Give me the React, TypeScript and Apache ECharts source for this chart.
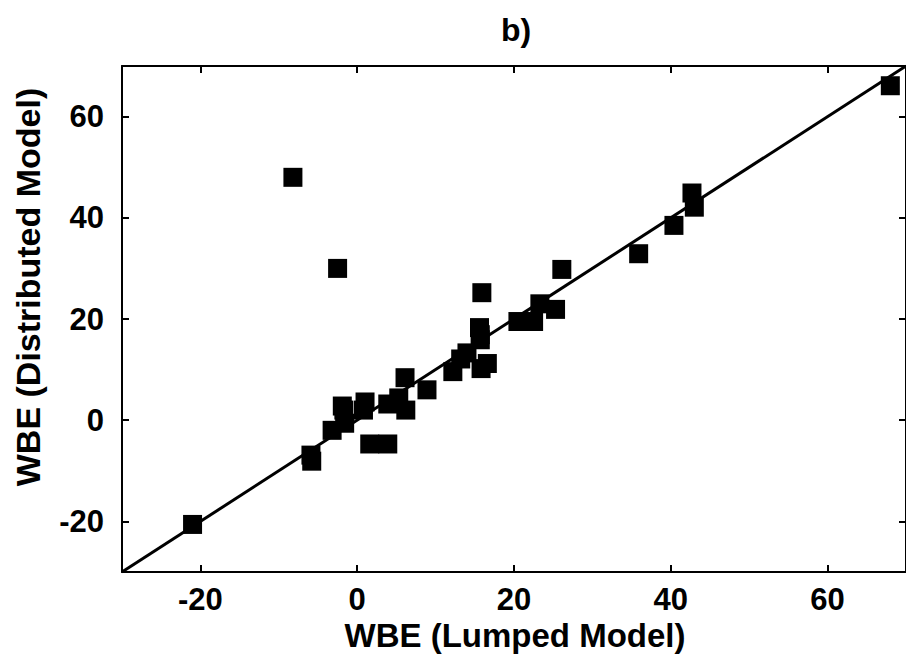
import React, { useEffect, useRef } from "react";
import * as echarts from "echarts";

const xTicks = [-20, 0, 20, 40, 60];
const yTicks = [-20, 0, 20, 40, 60];

// WBE (Lumped Model)
const lumped = [
  68.0, -8.2, -2.5, 42.7, 43.0, 40.4, 35.9, 26.1, 15.9, 23.3, 25.3, 20.5, 22.5,
  15.6, 15.7, 15.7, 13.2, 12.2, 15.8, 16.6, 14.0, 6.1, 8.9, 6.2, 5.3, 3.9, 1.0,
  0.8, -1.9, -1.7, -1.6, -3.2, 1.6, 3.9, -5.9, -5.8, -21.0,
];
// WBE (Distributed Model)
const distributed = [
  66.1, 48.0, 30.0, 44.9, 42.1, 38.5, 32.9, 29.8, 25.2, 23.0, 21.9, 19.5, 19.5,
  18.3, 16.9, 15.9, 12.1, 9.6, 10.2, 11.2, 13.3, 8.4, 6.0, 2.0, 4.4, 3.2, 3.6,
  2.0, 2.8, 2.0, -0.6, -2.0, -4.7, -4.7, -6.9, -8.1, -20.6,
];
const oneToOne = [
  [-30, -30],
  [70, 70],
];

const FONT = "'Liberation Sans', Arial, Helvetica, sans-serif";

export default function App() {
  const ref = useRef<HTMLDivElement>(null);
  useEffect(() => {
    if (!ref.current) return;
    const chart = echarts.init(ref.current, undefined, { renderer: "svg" });
    const axisCommon = {
      type: "value" as const,
      min: -30,
      max: 70,
      axisLine: { show: true, onZero: false, lineStyle: { color: "#000", width: 2 } },
      splitLine: { show: false },
    };
    const labelStyle = {
      fontSize: 31,
      lineHeight: 31,
      fontWeight: "bold" as const,
      color: "#000",
      fontFamily: FONT,
    };
    const tick = (vals: number[]) => ({
      show: true,
      inside: true,
      length: 7,
      customValues: vals,
      lineStyle: { color: "#000", width: 2 },
    });
    chart.setOption({
      animation: false,
      backgroundColor: "#fff",
      grid: { left: 122, right: -6, top: 66, bottom: 86, containLabel: false },
      xAxis: [
        {
          ...axisCommon,
          position: "bottom",
          axisTick: tick(xTicks),
          axisLabel: { ...labelStyle, margin: 12, customValues: xTicks },
        },
        {
          ...axisCommon,
          position: "top",
          axisTick: tick(xTicks),
          axisLabel: { show: false },
        },
      ],
      yAxis: [
        {
          ...axisCommon,
          position: "left",
          axisTick: tick(yTicks),
          axisLabel: { ...labelStyle, margin: 18, customValues: yTicks },
        },
        {
          ...axisCommon,
          position: "right",
          axisTick: tick(yTicks),
          axisLabel: { show: false },
        },
      ],
      series: [
        {
          type: "line",
          xAxisIndex: 0,
          yAxisIndex: 0,
          data: oneToOne,
          symbol: "none",
          lineStyle: { color: "#000", width: 3 },
          z: 3,
          silent: true,
        },
        {
          type: "scatter",
          xAxisIndex: 0,
          yAxisIndex: 0,
          data: lumped.map((x, i) => [x, distributed[i]]),
          symbol: "rect",
          symbolSize: 19,
          itemStyle: { color: "#000", opacity: 1 },
          z: 2,
        },
      ],
      graphic: [
        {
          type: "text",
          x: 516,
          y: 30,
          style: {
            text: "b)",
            align: "center",
            verticalAlign: "middle",
            fontSize: 32,
            fontWeight: "bold",
            fontFamily: FONT,
            fill: "#000",
          },
        },
        {
          type: "text",
          x: 515,
          y: 635,
          style: {
            text: "WBE (Lumped Model)",
            align: "center",
            verticalAlign: "middle",
            fontSize: 33,
            lineHeight: 33,
            fontWeight: "bold",
            fontFamily: FONT,
            fill: "#000",
          },
        },
        {
          type: "text",
          x: 28,
          y: 287,
          rotation: Math.PI / 2,
          style: {
            text: "WBE (Distributed Model)",
            x: 0,
            y: 0,
            align: "center",
            verticalAlign: "middle",
            fontSize: 34,
            fontWeight: "bold",
            fontFamily: FONT,
            fill: "#000",
          },
        },
      ],
    });
    return () => chart.dispose();
  }, []);
  return (
    <div
      ref={ref}
      style={{ position: "fixed", left: 0, top: 0, width: 906, height: 658, background: "#fff" }}
    />
  );
}
